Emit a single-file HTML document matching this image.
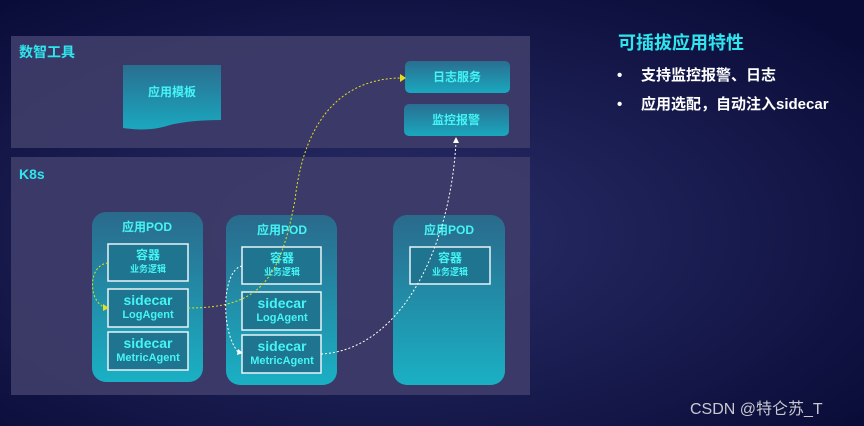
<!DOCTYPE html>
<html><head><meta charset="utf-8"><style>
body{margin:0;width:864px;height:426px;overflow:hidden;background:#0b0d3c;}
svg{display:block}
text{font-family:"Liberation Sans","Noto Sans CJK SC",sans-serif;}
</style></head><body>
<svg width="864" height="426" viewBox="0 0 864 426">
<defs>
<radialGradient id="bg" cx="0.45" cy="0.55" r="0.7">
<stop offset="0" stop-color="#2a2f6a"/><stop offset="1" stop-color="#0a0c38"/></radialGradient>
<linearGradient id="pod" x1="0" y1="0" x2="0" y2="1">
<stop offset="0" stop-color="#2a6a8c"/><stop offset="1" stop-color="#1ab0c4"/></linearGradient>
<linearGradient id="btn" x1="0" y1="0" x2="0" y2="1">
<stop offset="0" stop-color="#2a6e90"/><stop offset="1" stop-color="#1aa8bf"/></linearGradient>
</defs>
<rect width="864" height="426" fill="url(#bg)"/>
<rect x="11" y="36" width="519" height="112" fill="#3d3b68" opacity="0.95"/>
<rect x="11" y="157" width="519" height="238" fill="#3d3b68" opacity="0.95"/>
<text x="19" y="57" fill="#2ee6ee" font-size="14" font-weight="bold">数智工具</text>
<text x="19" y="179" fill="#2ee6ee" font-size="14" font-weight="bold">K8s</text>
<path d="M123 65H221V120Q190 120 170 125Q150 132 123 128Z" fill="url(#btn)"/>
<text x="172" y="96" fill="#45f5f5" font-size="12" font-weight="bold" text-anchor="middle">应用模板</text>
<rect x="405" y="61" width="105" height="32" rx="5" fill="url(#btn)"/>
<text x="457" y="81" fill="#45f5f5" font-size="12" font-weight="bold" text-anchor="middle">日志服务</text>
<rect x="404" y="104" width="105" height="32" rx="5" fill="url(#btn)"/>
<text x="456" y="124" fill="#45f5f5" font-size="12" font-weight="bold" text-anchor="middle">监控报警</text>

<rect x="92" y="212" width="111" height="170" rx="14" fill="url(#pod)"/>
<rect x="226" y="215" width="111" height="170" rx="14" fill="url(#pod)"/>
<rect x="393" y="215" width="112" height="170" rx="14" fill="url(#pod)"/>
<g fill="#45f5f5" font-size="12" font-weight="bold" text-anchor="middle">
<text x="147" y="231">应用POD</text><text x="282" y="234">应用POD</text><text x="449" y="234">应用POD</text>
</g>
<g fill="#1f7590" stroke="#e8f4f8" stroke-width="1.5">
<rect x="108" y="244" width="80" height="37"/><rect x="108" y="289" width="80" height="38"/><rect x="108" y="332" width="80" height="38"/>
<rect x="242" y="247" width="79" height="37"/><rect x="242" y="292" width="79" height="38"/><rect x="242" y="335" width="79" height="38"/>
<rect x="410" y="247" width="80" height="37"/>
</g>
<g fill="#45f5f5" text-anchor="middle" font-weight="bold">
<text x="148" y="259" font-size="12">容器</text><text x="148" y="272" font-size="9">业务逻辑</text>
<text x="148" y="305" font-size="14">sidecar</text><text x="148" y="318" font-size="11">LogAgent</text>
<text x="148" y="348" font-size="14">sidecar</text><text x="148" y="361" font-size="11">MetricAgent</text>
<text x="282" y="262" font-size="12">容器</text><text x="282" y="275" font-size="9">业务逻辑</text>
<text x="282" y="308" font-size="14">sidecar</text><text x="282" y="321" font-size="11">LogAgent</text>
<text x="282" y="351" font-size="14">sidecar</text><text x="282" y="364" font-size="11">MetricAgent</text>
<text x="450" y="262" font-size="12">容器</text><text x="450" y="275" font-size="9">业务逻辑</text>
</g>
<g fill="none" stroke-width="1" stroke-dasharray="2,2">
<path d="M108 263C88 265 88 300 104 307" stroke="#e0e020"/>
<path d="M188 308C260 308 280 280 295 200C305 110 350 78 402 78" stroke="#e0e020"/>
<path d="M242 266C222 270 220 330 238 352" stroke="#ffffff"/>
<path d="M321 354C400 350 450 250 456 142" stroke="#ffffff"/>
</g>
<path d="M103 304L109 308L103 311Z" fill="#e0e020"/>
<path d="M400 74L406 78L400 82Z" fill="#e0e020"/>
<path d="M238 349L243 353L237 355Z" fill="#fff"/>
<path d="M453 143L456 137L459 143Z" fill="#fff"/>

<text x="618" y="49" fill="#2ee6ee" font-size="18" font-weight="bold">可插拔应用特性</text>
<g fill="#ffffff" font-size="15" font-weight="bold">
<text x="617" y="80">•</text><text x="641" y="80">支持监控报警、日志</text>
<text x="617" y="109">•</text><text x="641" y="109">应用选配，自动注入sidecar</text>
</g>
<text x="690" y="414" fill="#c8c8d0" font-size="16">CSDN @特仑苏_T</text>
</svg>
</body></html>
